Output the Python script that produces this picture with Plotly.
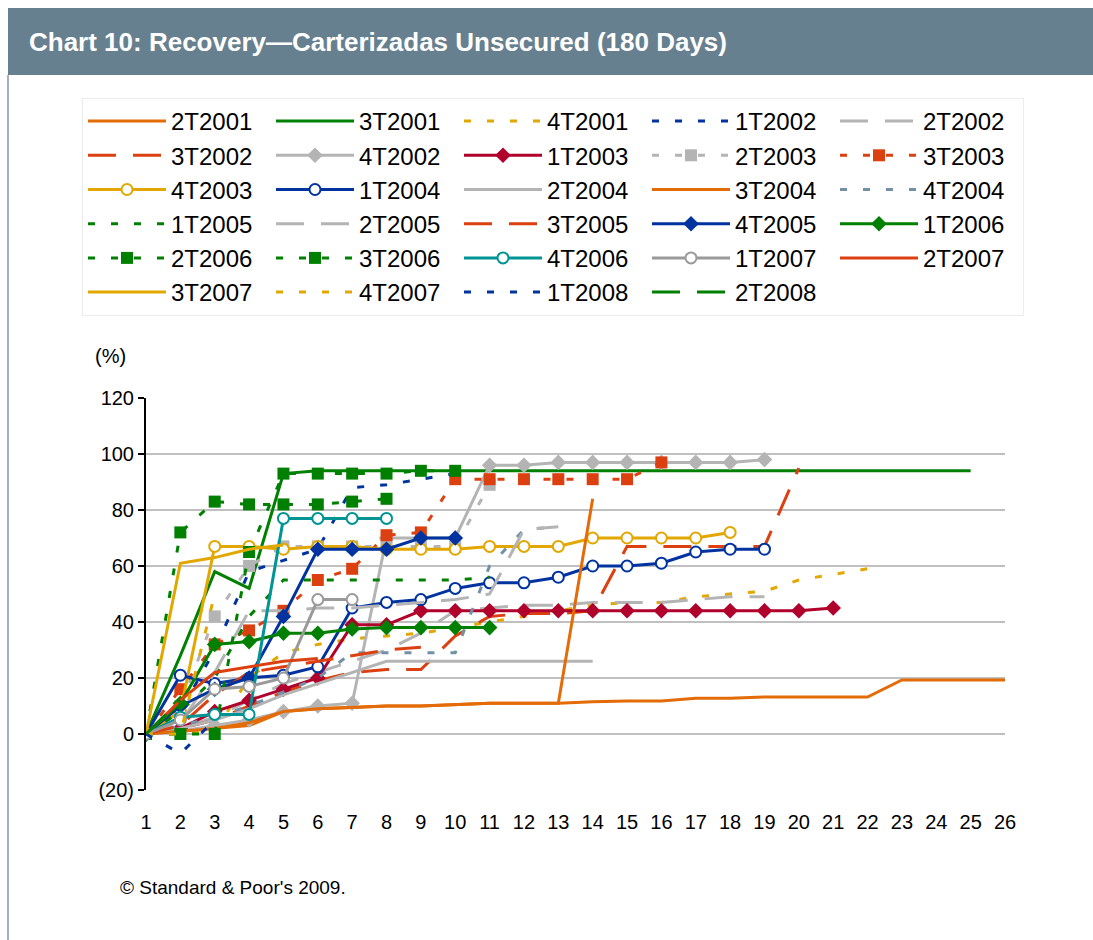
import plotly.graph_objects as go

# recovery curves (%) by period, one list per cohort
periods = list(range(1, 27))

s_2T2001 = [0, 1, 2, 3, 8, 9, 9.5, 10, 10, 10.5, 11, 11, 11, 11.5, 11.8, 11.8, 12.8, 12.8, 13.2, 13.2, 13.2, 13.2, 19.3, 19.3, 19.3, 19.3]
s_3T2001 = [0, 28, 58, 52, 93, 94, 94, 94, 94, 94, 94, 94, 94, 94, 94, 94, 94, 94, 94, 94, 94, 94, 94, 94, 94]
s_4T2001 = [0, 0, 1, 20, 29, 32, 34, 35, 36, 38, 40, 42, 44, 46, 47, 47, 49, 50, 51, 55, 57, 59]
s_1T2002 = [0, 8, 30, 58, 62, 66, 88, 89, 91, 93]
s_2T2002 = [0, 2, 6, 12, 18, 22, 26, 30, 36, 44, 45, 46, 46, 47, 47, 47, 48, 49, 49]
s_3T2002 = [0, 2, 5, 10, 15, 19, 22, 23, 23, 35, 42, 43, 43, 44, 67, 67, 67, 67, 67, 95]
s_4T2002 = [0, 1, 3, 5, 8, 10, 11, 70, 70, 70, 96, 96, 97, 97, 97, 97, 97, 97, 98]
s_1T2003 = [0, 2, 8, 12, 16, 20, 39, 39, 44, 44, 44, 44, 44, 44, 44, 44, 44, 44, 44, 44, 45]
s_2T2003 = [0, 10, 42, 60, 67, 67, 67, 67, 67, 67, 89]
s_3T2003 = [0, 16, 32, 37, 44, 55, 59, 71, 72, 91, 91, 91, 91, 91, 91, 97]
s_4T2003 = [0, 8, 67, 67, 66, 67, 67, 66, 66, 66, 67, 67, 67, 70, 70, 70, 70, 72]
s_1T2004 = [0, 21, 18, 20, 21, 24, 45, 47, 48, 52, 54, 54, 56, 60, 60, 61, 65, 66, 66]
s_2T2004 = [0, 2, 5, 9, 14, 18, 22, 26, 26, 26, 26, 26, 26, 26]
s_3T2004 = [0, 1, 2, 4, 8, 9, 9.5, 10, 10, 10.5, 11, 11, 11, 84]
s_4T2004 = [0, 3, 6, 10, 15, 20, 29, 29, 29, 29, 60, 73, 74]
s_1T2005 = [0, 8, 20, 42, 55, 55, 55, 55, 55, 55, 56]
s_2T2005 = [0, 4, 22, 44, 44, 45, 45, 46, 47, 48, 50, 73, 74]
s_3T2005 = [0, 3, 14, 22, 24, 26, 28, 30, 31]
s_4T2005 = [0, 10, 16, 20, 42, 66, 66, 66, 70, 70]
s_1T2006 = [0, 11, 32, 33, 36, 36, 37.5, 38, 38, 38, 38]
s_2T2006 = [0, 0, 0, 65, 93, 93, 93, 93, 94, 94]
s_3T2006 = [0, 72, 83, 82, 82, 82, 83, 84]
s_4T2006 = [0, 6, 7, 7, 77, 77, 77, 77]
s_1T2007 = [0, 5, 16, 17, 20, 48, 48]
s_2T2007 = [0, 12, 22, 24, 26, 27]
s_3T2007 = [0, 61, 63, 66, 67.5]
s_4T2007 = [0, 0, 50]
s_1T2008 = [0, -7, 5]
s_2T2008 = [0, 12]

y_ticks = [-20, 0, 20, 40, 60, 80, 100, 120]
y_labels = ["(20)", "0", "20", "40", "60", "80", "100", "120"]

ORANGE = "#E36C09"
GREEN = "#008000"
GOLD = "#E2A700"
BLUE = "#0033A0"
GREY = "#B4B4B4"
RED = "#DC4010"
CRIMSON = "#B0002C"
TEAL = "#009494"
SLATE = "#7391A6"
DGREY = "#9A9A9A"

DOT = "7px,16px"
LONG = "28px,17px"

# name, values, colour, dash, marker symbol
series = [
    ("2T2001", s_2T2001, ORANGE, "solid", None),
    ("3T2001", s_3T2001, GREEN, "solid", None),
    ("4T2001", s_4T2001, GOLD, DOT, None),
    ("1T2002", s_1T2002, BLUE, DOT, None),
    ("2T2002", s_2T2002, GREY, LONG, None),
    ("3T2002", s_3T2002, RED, LONG, None),
    ("4T2002", s_4T2002, GREY, "solid", "diamond"),
    ("1T2003", s_1T2003, CRIMSON, "solid", "diamond"),
    ("2T2003", s_2T2003, GREY, DOT, "square"),
    ("3T2003", s_3T2003, RED, DOT, "square"),
    ("4T2003", s_4T2003, GOLD, "solid", "circle-open"),
    ("1T2004", s_1T2004, BLUE, "solid", "circle-open"),
    ("2T2004", s_2T2004, GREY, "solid", None),
    ("3T2004", s_3T2004, ORANGE, "solid", None),
    ("4T2004", s_4T2004, SLATE, DOT, None),
    ("1T2005", s_1T2005, GREEN, DOT, None),
    ("2T2005", s_2T2005, GREY, LONG, None),
    ("3T2005", s_3T2005, RED, LONG, None),
    ("4T2005", s_4T2005, BLUE, "solid", "diamond"),
    ("1T2006", s_1T2006, GREEN, "solid", "diamond"),
    ("2T2006", s_2T2006, GREEN, DOT, "square"),
    ("3T2006", s_3T2006, GREEN, DOT, "square"),
    ("4T2006", s_4T2006, TEAL, "solid", "circle-open"),
    ("1T2007", s_1T2007, DGREY, "solid", "circle-open"),
    ("2T2007", s_2T2007, RED, "solid", None),
    ("3T2007", s_3T2007, GOLD, "solid", None),
    ("4T2007", s_4T2007, GOLD, DOT, None),
    ("1T2008", s_1T2008, BLUE, DOT, None),
    ("2T2008", s_2T2008, GREEN, LONG, None),
]

FONT = "Liberation Sans, Arial, sans-serif"

fig = go.Figure()
for name, vals, col, dash, sym in series:
    kw = dict(mode="lines")
    if sym:
        kw["mode"] = "lines+markers"
        if sym == "circle-open":
            kw["marker"] = dict(symbol="circle", size=11, color="white",
                                line=dict(color=col, width=2))
        else:
            kw["marker"] = dict(symbol=sym, size=12, color=col)
    fig.add_trace(go.Scatter(x=periods[:len(vals)], y=vals, name=name,
                             line=dict(color=col, width=3, dash=dash), **kw))

# plot area: x 146..1005, y 398..790 (px)
def px_x(v):
    return (v - 146) / 859

def px_y(v):
    return (790 - v) / 392

fig.update_layout(
    width=1093, height=940, autosize=False,
    margin=dict(l=146, r=88, t=398, b=150),
    paper_bgcolor="white", plot_bgcolor="white",
    font=dict(family=FONT, color="black", size=20),
    showlegend=True,
    legend=dict(orientation="h", x=px_x(82), xanchor="left", y=px_y(98), yanchor="top",
                itemwidth=78, entrywidth=95, entrywidthmode="pixels", font=dict(size=24),
                bordercolor="#ECECEC", borderwidth=1, bgcolor="white", tracegroupgap=0),
    xaxis=dict(range=[1, 26], tickmode="linear", tick0=1, dtick=1, showgrid=False,
               showline=False, zeroline=False, ticks="", tickfont=dict(size=20),
               ticklabelstandoff=18),
    xaxis2=dict(range=[1, 26], overlaying="x", anchor="free", position=20 / 140,
                tickmode="linear", tick0=1, dtick=1, showgrid=False, zeroline=False,
                showline=True, linecolor="black", linewidth=2, ticks="outside",
                ticklen=7, tickwidth=2, tickcolor="black", showticklabels=False),
    yaxis=dict(range=[-20, 120], tickvals=y_ticks, ticktext=y_labels, showgrid=True,
               gridcolor="#C0C0C0", gridwidth=2, zeroline=False, showline=True,
               linecolor="black", linewidth=2, ticks="outside", ticklen=6, tickwidth=2,
               tickcolor="black", tickfont=dict(size=20)),
    shapes=[
        dict(type="rect", xref="paper", yref="paper", x0=px_x(8), x1=px_x(1093),
             y0=px_y(75), y1=px_y(8), fillcolor="#67808F", line=dict(width=0), layer="below"),
        dict(type="line", xref="paper", yref="paper", x0=px_x(8), x1=px_x(8),
             y0=px_y(940), y1=px_y(75), line=dict(color="#8797A4", width=1.5)),
    ],
    annotations=[
        dict(text="<b>Chart 10: Recovery\u2014Carterizadas Unsecured (180 Days)</b>",
             xref="paper", yref="paper", x=px_x(27), y=px_y(42), xanchor="left",
             yanchor="middle", showarrow=False,
             font=dict(family="Liberation Sans Narrow, Arial Narrow, " + FONT, size=26, color="white")),
        dict(text="(%)", xref="paper", yref="paper", x=px_x(110), y=px_y(356),
             xanchor="center", yanchor="middle", showarrow=False, font=dict(size=20)),
        dict(text="\u00a9 Standard & Poor's 2009.", xref="paper", yref="paper",
             x=px_x(118), y=px_y(887), xanchor="left", yanchor="middle", showarrow=False,
             font=dict(size=19)),
    ],
)

fig.write_html("out.html", config={"displayModeBar": False},
               post_script="document.body.style.margin='0';document.body.style.overflow='hidden';")
